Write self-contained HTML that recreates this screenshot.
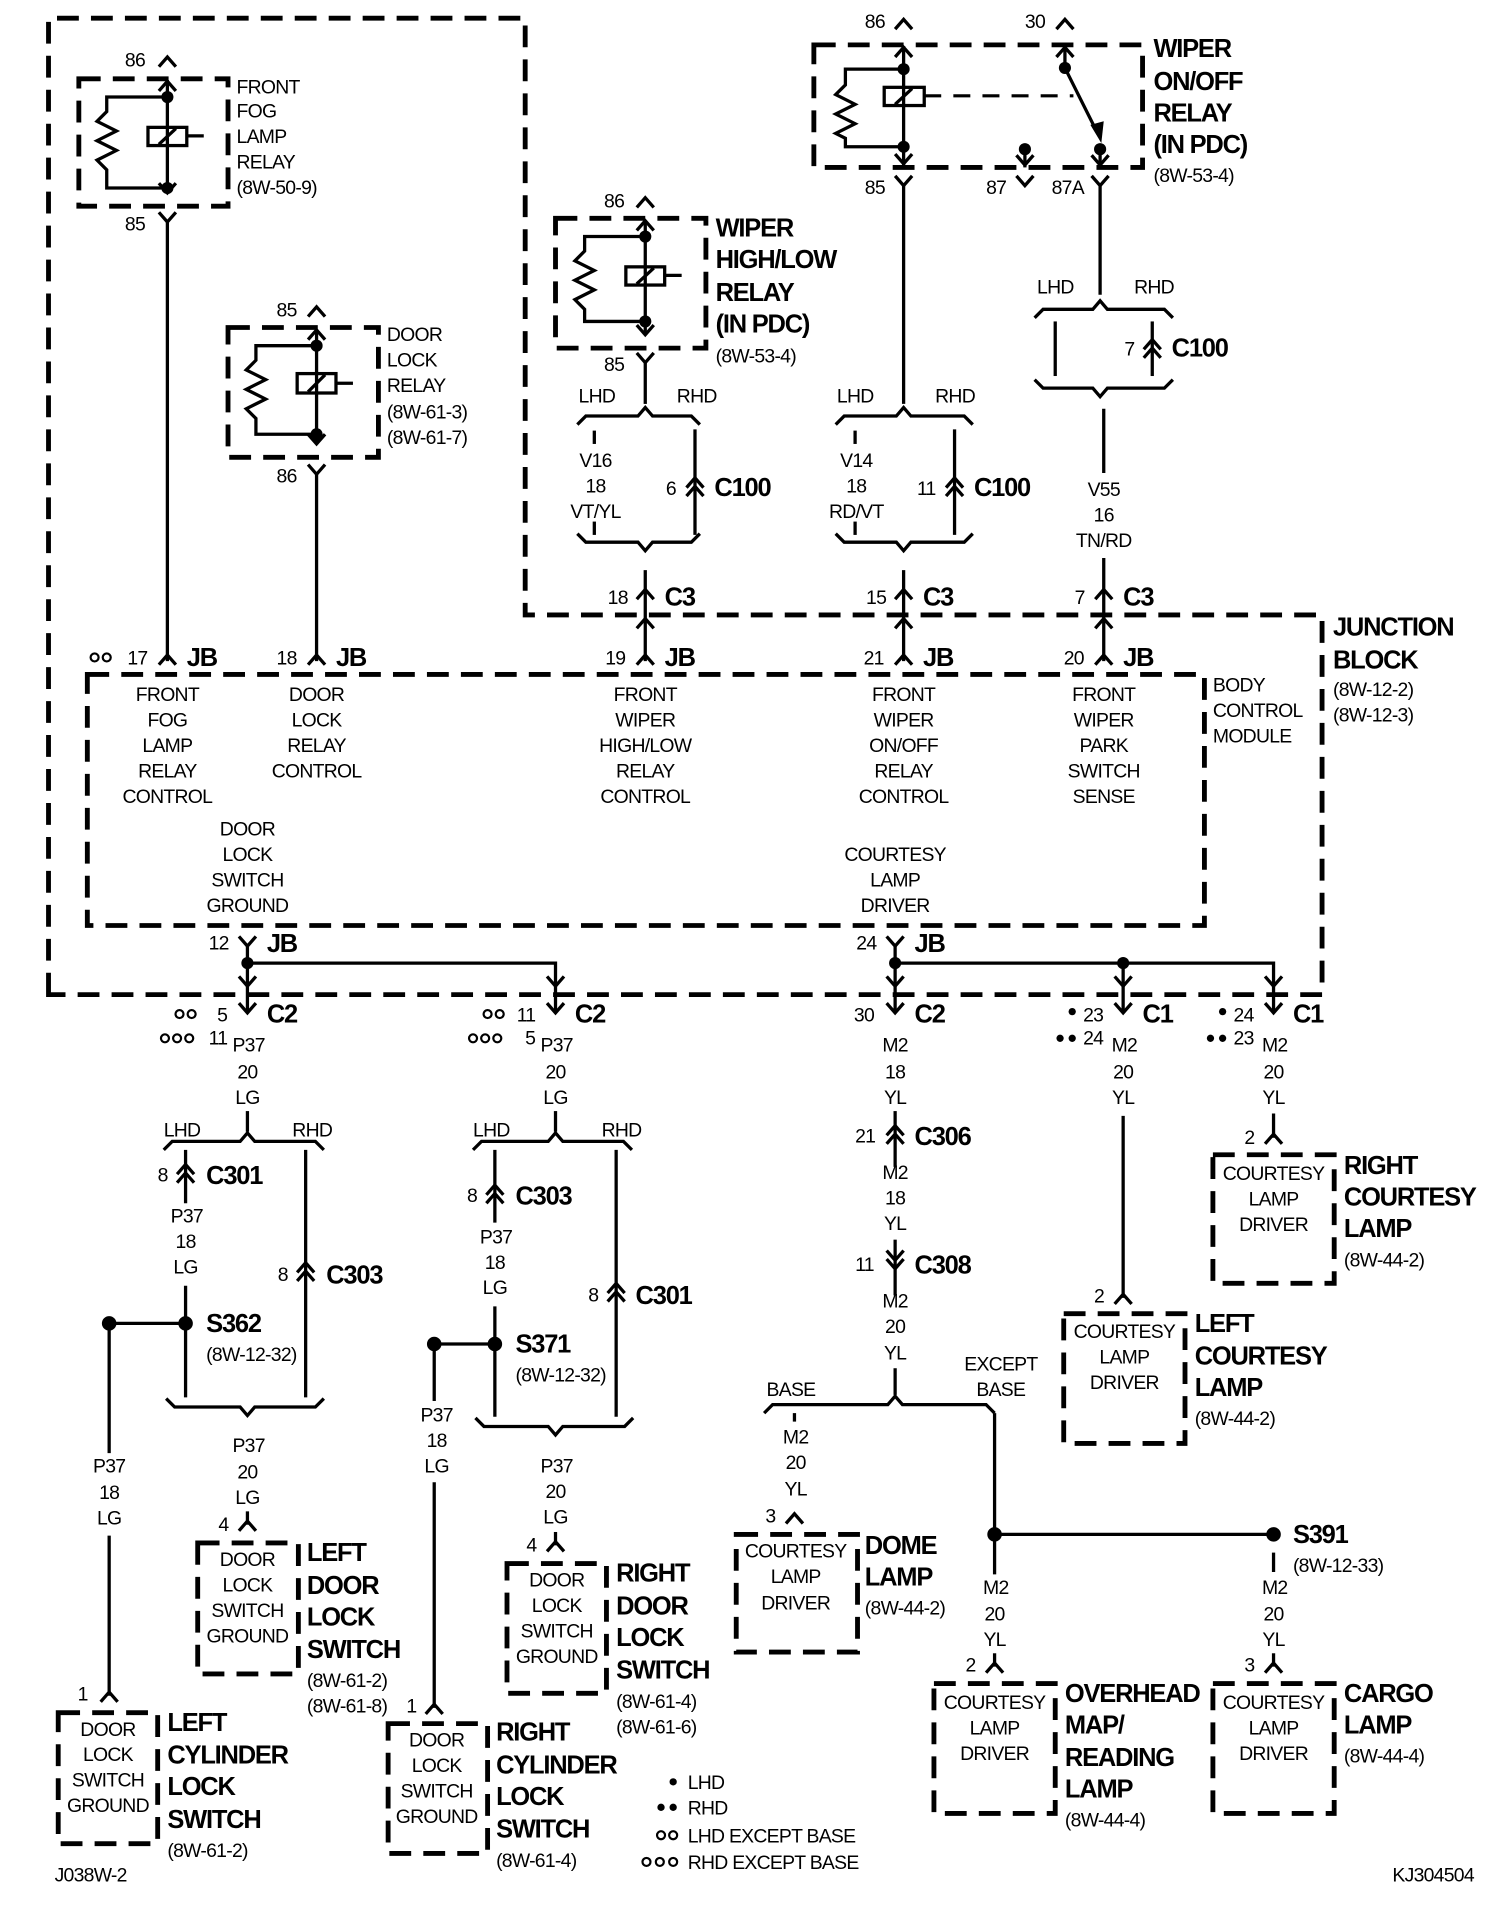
<!DOCTYPE html>
<html><head><meta charset="utf-8"><style>
html,body{margin:0;padding:0;background:#fff}
svg{display:block}
text{font-family:"Liberation Sans",Arial,sans-serif;font-size:16px;fill:#000;letter-spacing:-0.6px}
.c{text-anchor:middle}
.b{font-weight:bold;font-size:21px;letter-spacing:-1px}
.l{fill:none;stroke:#000;stroke-width:2.7}
.dash{fill:none;stroke:#000;stroke-width:4;stroke-dasharray:18 10}
.dsh2{fill:none;stroke:#000;stroke-width:2.5;stroke-dasharray:14 10}
.dot{fill:#000}
.o{fill:none;stroke:#000;stroke-width:1.8}
</style></head><body>
<svg width="1504" height="1908" viewBox="0 0 1240 1573" preserveAspectRatio="none" xmlns="http://www.w3.org/2000/svg">
<defs>
<path id="u" class="l" d="M-7,5 L0,-3 L7,5"/>
<path id="d" class="l" d="M-7,-5 L0,3 L7,-5"/>
<g id="uu"><use href="#u"/><use href="#u" y="7"/></g>
<g id="dd"><use href="#d"/><use href="#d" y="7"/></g>
</defs>
<rect width="1240" height="1573" fill="#fff"/>

<path class="dash" d="M40,820 L40,15 L433,15 L433,507 L1090,507 L1090,820 Z"/>
<rect class="dash" x="72" y="556" width="921" height="207"/>

<!-- FRONT FOG LAMP RELAY -->
<rect class="dash" x="65" y="65" width="123" height="105"/>
<text x="103" y="55">86</text><use href="#u" x="138" y="50"/>
<line class="l" x1="138" y1="66" x2="138" y2="158"/>
<use href="#u" x="138" y="70"/><use href="#d" x="138" y="156"/>
<circle class="dot" cx="138" cy="80" r="5"/><circle class="dot" cx="138" cy="155" r="5"/>
<path class="l" d="M138,80 L88,80 L88,92 L80,100 L96,108 L80,116 L96,124 L80,132 L88,140 L88,155 L138,155"/>
<rect class="l" x="122" y="105" width="32" height="15" fill="#fff"/><line class="l" x1="131" y1="119" x2="145" y2="106"/>
<line class="l" x1="154" y1="112" x2="168" y2="112"/>
<text x="195" y="77">FRONT</text><text x="195" y="97">FOG</text><text x="195" y="118">LAMP</text><text x="195" y="139">RELAY</text><text x="195" y="160">(8W-50-9)</text>
<text x="103" y="190">85</text><use href="#d" x="138" y="180"/>
<line class="l" x1="138" y1="183" x2="138" y2="545"/>

<!-- DOOR LOCK RELAY -->
<rect class="dash" x="188" y="270" width="124" height="107"/>
<text x="228" y="261">85</text><use href="#u" x="261" y="256"/>
<line class="l" x1="261" y1="272" x2="261" y2="365"/>
<use href="#u" x="261" y="275"/><use href="#d" x="261" y="363"/>
<circle class="dot" cx="261" cy="285" r="5"/><circle class="dot" cx="261" cy="358" r="5"/>
<path class="l" d="M261,285 L211,285 L211,297 L203,305 L219,313 L203,321 L219,329 L203,337 L211,345 L211,358 L261,358"/>
<rect class="l" x="245" y="308" width="32" height="16" fill="#fff"/><line class="l" x1="254" y1="323" x2="268" y2="309"/>
<line class="l" x1="277" y1="316" x2="291" y2="316"/>
<text x="319" y="281">DOOR</text><text x="319" y="302">LOCK</text><text x="319" y="323">RELAY</text><text x="319" y="345">(8W-61-3)</text><text x="319" y="366">(8W-61-7)</text>
<text x="228" y="398">86</text><use href="#d" x="261" y="388"/>
<line class="l" x1="261" y1="391" x2="261" y2="545"/>

<!-- WIPER HIGH/LOW RELAY -->
<rect class="dash" x="458" y="180" width="124" height="107"/>
<text x="498" y="171">86</text><use href="#u" x="532" y="166"/>
<line class="l" x1="532" y1="182" x2="532" y2="275"/>
<use href="#u" x="532" y="185"/><use href="#d" x="532" y="273"/>
<circle class="dot" cx="532" cy="195" r="5"/><circle class="dot" cx="532" cy="265" r="5"/>
<path class="l" d="M532,195 L482,195 L482,207 L474,215 L490,223 L474,231 L490,239 L474,247 L482,255 L482,265 L532,265"/>
<rect class="l" x="516" y="220" width="32" height="15" fill="#fff"/><line class="l" x1="525" y1="234" x2="539" y2="221"/>
<line class="l" x1="548" y1="227" x2="562" y2="227"/>
<text class="b" x="590" y="195">WIPER</text><text class="b" x="590" y="221">HIGH/LOW</text><text class="b" x="590" y="248">RELAY</text><text class="b" x="590" y="274">(IN PDC)</text><text x="590" y="299">(8W-53-4)</text>
<text x="498" y="306">85</text><use href="#d" x="532" y="296"/>
<line class="l" x1="532" y1="299" x2="532" y2="333"/>
<text x="477" y="332">LHD</text><text x="558" y="332">RHD</text>
<polyline class="l" points="577,350 570,343 538,343 532,336 526,343 483,343 476,350"/>
<line class="l" x1="490" y1="355" x2="490" y2="366"/><line class="l" x1="490" y1="430" x2="490" y2="441"/>
<text class="c" x="491" y="385">V16</text><text class="c" x="491" y="406">18</text><text class="c" x="491" y="427">VT/YL</text>
<line class="l" x1="573" y1="354" x2="573" y2="441"/>
<use href="#uu" x="573" y="397"/><text x="549" y="408">6</text><text class="b" x="589" y="409">C100</text>
<polyline class="l" points="476,440 483,447 526,447 532,454 538,447 570,447 577,440"/>
<line class="l" x1="532" y1="470" x2="532" y2="545"/>
<use href="#u" x="532" y="489"/><text x="501" y="498">18</text><text class="b" x="548" y="499">C3</text>
<use href="#u" x="532" y="513"/>
<text x="499" y="548">19</text><use href="#u" x="532" y="543"/><text class="b" x="548" y="549">JB</text>

<!-- WIPER ON/OFF RELAY -->
<rect class="dash" x="671" y="37" width="271" height="101"/>
<text x="713" y="23">86</text><use href="#u" x="745" y="19"/>
<line class="l" x1="745" y1="38" x2="745" y2="138"/>
<use href="#u" x="745" y="42"/><use href="#d" x="745" y="132"/>
<circle class="dot" cx="745" cy="57" r="5"/><circle class="dot" cx="745" cy="121" r="5"/>
<path class="l" d="M745,57 L697,57 L697,70 L689,78 L705,86 L689,94 L705,102 L689,110 L697,114 L697,121 L745,121"/>
<rect class="l" x="729" y="72" width="33" height="15" fill="#fff"/><line class="l" x1="738" y1="86" x2="752" y2="73"/>
<line class="dsh2" x1="762" y1="79" x2="885" y2="79"/>
<text x="845" y="23">30</text><use href="#u" x="878" y="19"/>
<line class="l" x1="878" y1="38" x2="878" y2="56"/><use href="#u" x="878" y="42"/>
<circle class="dot" cx="878" cy="56" r="5"/>
<line class="l" x1="878" y1="56" x2="905" y2="110"/><path class="dot" d="M908,118 L899,103 L910,100 Z"/>
<circle class="dot" cx="907" cy="123" r="5"/><line class="l" x1="907" y1="123" x2="907" y2="138"/><use href="#d" x="907" y="133"/>
<circle class="dot" cx="845" cy="123" r="5"/><line class="l" x1="845" y1="123" x2="845" y2="138"/><use href="#d" x="845" y="133"/>
<text class="b" x="951" y="47">WIPER</text><text class="b" x="951" y="74">ON/OFF</text><text class="b" x="951" y="100">RELAY</text><text class="b" x="951" y="126">(IN PDC)</text><text x="951" y="150">(8W-53-4)</text>
<text x="713" y="160">85</text><use href="#d" x="745" y="150"/>
<text x="813" y="160">87</text><use href="#d" x="845" y="150"/>
<text x="867" y="160">87A</text><use href="#d" x="907" y="150"/>
<line class="l" x1="907" y1="152" x2="907" y2="243"/>
<text x="690" y="332">LHD</text><text x="771" y="332">RHD</text>
<polyline class="l" points="802,350 795,343 751,343 745,336 739,343 696,343 689,350"/>
<line class="l" x1="705" y1="355" x2="705" y2="366"/><line class="l" x1="705" y1="430" x2="705" y2="441"/>
<text class="c" x="706" y="385">V14</text><text class="c" x="706" y="406">18</text><text class="c" x="706" y="427">RD/VT</text>
<line class="l" x1="787" y1="354" x2="787" y2="441"/>
<use href="#uu" x="787" y="397"/><text x="756" y="408">11</text><text class="b" x="803" y="409">C100</text>
<polyline class="l" points="689,440 696,447 739,447 745,454 751,447 795,447 802,440"/>
<line class="l" x1="745" y1="153" x2="745" y2="333"/>
<line class="l" x1="745" y1="470" x2="745" y2="545"/>
<use href="#u" x="745" y="489"/><text x="714" y="498">15</text><text class="b" x="761" y="499">C3</text>
<use href="#u" x="745" y="513"/>
<text x="712" y="548">21</text><use href="#u" x="745" y="543"/><text class="b" x="761" y="549">JB</text>
<text x="855" y="242">LHD</text><text x="935" y="242">RHD</text>
<polyline class="l" points="853,262 860,255 901,255 907,248 913,255 960,255 967,262"/>
<line class="l" x1="870" y1="265" x2="870" y2="310"/>
<line class="l" x1="950" y1="265" x2="950" y2="310"/>
<use href="#uu" x="950" y="283"/><text x="927" y="293">7</text><text class="b" x="966" y="294">C100</text>
<polyline class="l" points="853,313 860,320 901,320 907,327 913,320 960,320 967,313"/>
<line class="l" x1="910" y1="337" x2="910" y2="390"/><line class="l" x1="910" y1="460" x2="910" y2="545"/>
<text class="c" x="910" y="409">V55</text><text class="c" x="910" y="430">16</text><text class="c" x="910" y="451">TN/RD</text>
<use href="#u" x="910" y="489"/><text x="886" y="498">7</text><text class="b" x="926" y="499">C3</text>
<use href="#u" x="910" y="513"/>
<text x="877" y="548">20</text><use href="#u" x="910" y="543"/><text class="b" x="926" y="549">JB</text>

<text class="b" x="1099" y="524">JUNCTION</text><text class="b" x="1099" y="551">BLOCK</text>
<text x="1099" y="574">(8W-12-2)</text><text x="1099" y="595">(8W-12-3)</text>
<text x="1000" y="570">BODY</text><text x="1000" y="591">CONTROL</text><text x="1000" y="612">MODULE</text>

<circle class="o" cx="78" cy="542" r="3.3"/><circle class="o" cx="88" cy="542" r="3.3"/>
<text x="105" y="548">17</text><use href="#u" x="138" y="543"/><text class="b" x="154" y="549">JB</text>
<text x="228" y="548">18</text><use href="#u" x="261" y="543"/><text class="b" x="277" y="549">JB</text>

<text class="c" x="138" y="578">FRONT</text><text class="c" x="138" y="599">FOG</text><text class="c" x="138" y="620">LAMP</text><text class="c" x="138" y="641">RELAY</text><text class="c" x="138" y="662">CONTROL</text>
<text class="c" x="261" y="578">DOOR</text><text class="c" x="261" y="599">LOCK</text><text class="c" x="261" y="620">RELAY</text><text class="c" x="261" y="641">CONTROL</text>
<text class="c" x="532" y="578">FRONT</text><text class="c" x="532" y="599">WIPER</text><text class="c" x="532" y="620">HIGH/LOW</text><text class="c" x="532" y="641">RELAY</text><text class="c" x="532" y="662">CONTROL</text>
<text class="c" x="745" y="578">FRONT</text><text class="c" x="745" y="599">WIPER</text><text class="c" x="745" y="620">ON/OFF</text><text class="c" x="745" y="641">RELAY</text><text class="c" x="745" y="662">CONTROL</text>
<text class="c" x="910" y="578">FRONT</text><text class="c" x="910" y="599">WIPER</text><text class="c" x="910" y="620">PARK</text><text class="c" x="910" y="641">SWITCH</text><text class="c" x="910" y="662">SENSE</text>
<text class="c" x="204" y="689">DOOR</text><text class="c" x="204" y="710">LOCK</text><text class="c" x="204" y="731">SWITCH</text><text class="c" x="204" y="752">GROUND</text>
<text class="c" x="738" y="710">COURTESY</text><text class="c" x="738" y="731">LAMP</text><text class="c" x="738" y="752">DRIVER</text>

<text x="172" y="783">12</text><use href="#d" x="204" y="777"/><text class="b" x="220" y="785">JB</text>
<line class="l" x1="204" y1="780" x2="204" y2="835"/>
<circle class="dot" cx="204" cy="794" r="5"/>
<polyline class="l" points="204,794 458,794 458,835"/><use href="#d" x="458" y="810"/>
<use href="#d" x="204" y="810"/>
<text x="706" y="783">24</text><use href="#d" x="738" y="777"/><text class="b" x="754" y="785">JB</text>
<line class="l" x1="738" y1="780" x2="738" y2="835"/>
<circle class="dot" cx="738" cy="794" r="5"/><circle class="dot" cx="926" cy="794" r="5"/>
<polyline class="l" points="738,794 1050,794 1050,835"/><line class="l" x1="926" y1="794" x2="926" y2="835"/>
<use href="#d" x="738" y="810"/><use href="#d" x="926" y="810"/><use href="#d" x="1050" y="810"/>

<circle class="o" cx="148" cy="836" r="3.3"/><circle class="o" cx="158" cy="836" r="3.3"/>
<text x="179" y="842">5</text><use href="#d" x="204" y="832"/><text class="b" x="220" y="843">C2</text>
<circle class="o" cx="136" cy="856" r="3.3"/><circle class="o" cx="146" cy="856" r="3.3"/><circle class="o" cx="156" cy="856" r="3.3"/>
<text x="172" y="861">11</text>
<text class="c" x="205" y="867">P37</text><text class="c" x="204" y="889">20</text><text class="c" x="204" y="910">LG</text>

<circle class="o" cx="402" cy="836" r="3.3"/><circle class="o" cx="412" cy="836" r="3.3"/>
<text x="426" y="842">11</text><use href="#d" x="458" y="832"/><text class="b" x="474" y="843">C2</text>
<circle class="o" cx="390" cy="856" r="3.3"/><circle class="o" cx="400" cy="856" r="3.3"/><circle class="o" cx="410" cy="856" r="3.3"/>
<text x="433" y="861">5</text>
<text class="c" x="459" y="867">P37</text><text class="c" x="458" y="889">20</text><text class="c" x="458" y="910">LG</text>

<text x="704" y="842">30</text><use href="#d" x="738" y="832"/><text class="b" x="754" y="843">C2</text>
<text class="c" x="738" y="867">M2</text><text class="c" x="738" y="889">18</text><text class="c" x="738" y="910">YL</text>

<circle class="dot" cx="884" cy="834" r="3"/><text x="893" y="842">23</text><use href="#d" x="926" y="832"/><text class="b" x="942" y="843">C1</text>
<circle class="dot" cx="874" cy="856" r="3"/><circle class="dot" cx="884" cy="856" r="3"/><text x="893" y="861">24</text>
<text class="c" x="927" y="867">M2</text><text class="c" x="926" y="889">20</text><text class="c" x="926" y="910">YL</text>
<line class="l" x1="926" y1="920" x2="926" y2="1070"/>

<circle class="dot" cx="1008" cy="834" r="3"/><text x="1017" y="842">24</text><use href="#d" x="1050" y="832"/><text class="b" x="1066" y="843">C1</text>
<circle class="dot" cx="998" cy="856" r="3"/><circle class="dot" cx="1008" cy="856" r="3"/><text x="1017" y="861">23</text>
<text class="c" x="1051" y="867">M2</text><text class="c" x="1050" y="889">20</text><text class="c" x="1050" y="910">YL</text>
<line class="l" x1="1050" y1="918" x2="1050" y2="938"/>

<text x="1026" y="943">2</text><use href="#u" x="1050" y="938"/>
<rect class="dash" x="1000" y="952" width="100" height="106"/>
<text class="c" x="1050" y="973">COURTESY</text><text class="c" x="1050" y="994">LAMP</text><text class="c" x="1050" y="1015">DRIVER</text>
<text class="b" x="1108" y="968">RIGHT</text><text class="b" x="1108" y="994">COURTESY</text><text class="b" x="1108" y="1020">LAMP</text><text x="1108" y="1044">(8W-44-2)</text>
<text x="902" y="1074">2</text><use href="#u" x="926" y="1070"/>
<rect class="dash" x="877" y="1083" width="100" height="107"/>
<text class="c" x="927" y="1103">COURTESY</text><text class="c" x="927" y="1124">LAMP</text><text class="c" x="927" y="1145">DRIVER</text>
<text class="b" x="985" y="1098">LEFT</text><text class="b" x="985" y="1125">COURTESY</text><text class="b" x="985" y="1151">LAMP</text><text x="985" y="1175">(8W-44-2)</text>

<line class="l" x1="204" y1="916" x2="204" y2="933"/>
<text x="135" y="937">LHD</text><text x="241" y="937">RHD</text>
<polyline class="l" points="135,948 142,941 198,941 204,934 210,941 260,941 267,948"/>
<line class="l" x1="153" y1="948" x2="153" y2="992"/><use href="#uu" x="153" y="963"/>
<text x="130" y="974">8</text><text class="b" x="170" y="976">C301</text>
<text class="c" x="154" y="1008">P37</text><text class="c" x="153" y="1029">18</text><text class="c" x="153" y="1050">LG</text>
<line class="l" x1="153" y1="1060" x2="153" y2="1152"/>
<line class="l" x1="252" y1="948" x2="252" y2="1152"/><use href="#uu" x="252" y="1044"/>
<text x="229" y="1056">8</text><text class="b" x="269" y="1058">C303</text>
<circle class="dot" cx="153" cy="1091" r="6"/><circle class="dot" cx="90" cy="1091" r="6"/>
<line class="l" x1="90" y1="1091" x2="153" y2="1091"/>
<text class="b" x="170" y="1098">S362</text><text x="170" y="1122">(8W-12-32)</text>
<polyline class="l" points="137,1153 144,1160 198,1160 204,1167 210,1160 260,1160 267,1153"/>
<text class="c" x="205" y="1197">P37</text><text class="c" x="204" y="1219">20</text><text class="c" x="204" y="1240">LG</text>
<line class="l" x1="204" y1="1246" x2="204" y2="1257"/>
<text x="180" y="1262">4</text><use href="#u" x="204" y="1257"/>
<rect class="dash" x="163" y="1272" width="83" height="108"/>
<text class="c" x="204" y="1291">DOOR</text><text class="c" x="204" y="1312">LOCK</text><text class="c" x="204" y="1333">SWITCH</text><text class="c" x="204" y="1354">GROUND</text>
<text class="b" x="253" y="1287">LEFT</text><text class="b" x="253" y="1314">DOOR</text><text class="b" x="253" y="1340">LOCK</text><text class="b" x="253" y="1367">SWITCH</text>
<text x="253" y="1391">(8W-61-2)</text><text x="253" y="1412">(8W-61-8)</text>
<line class="l" x1="90" y1="1091" x2="90" y2="1198"/>
<text class="c" x="90" y="1214">P37</text><text class="c" x="90" y="1236">18</text><text class="c" x="90" y="1257">LG</text>
<line class="l" x1="90" y1="1266" x2="90" y2="1398"/>
<text x="64" y="1402">1</text><use href="#u" x="90" y="1398"/>
<rect class="dash" x="48" y="1412" width="82" height="108"/>
<text class="c" x="89" y="1431">DOOR</text><text class="c" x="89" y="1452">LOCK</text><text class="c" x="89" y="1473">SWITCH</text><text class="c" x="89" y="1494">GROUND</text>
<text class="b" x="138" y="1427">LEFT</text><text class="b" x="138" y="1454">CYLINDER</text><text class="b" x="138" y="1480">LOCK</text><text class="b" x="138" y="1507">SWITCH</text>
<text x="138" y="1531">(8W-61-2)</text>

<line class="l" x1="458" y1="916" x2="458" y2="933"/>
<text x="390" y="937">LHD</text><text x="496" y="937">RHD</text>
<polyline class="l" points="390,948 397,941 452,941 458,934 464,941 514,941 521,948"/>
<line class="l" x1="408" y1="948" x2="408" y2="1008"/><use href="#uu" x="408" y="980"/>
<text x="385" y="991">8</text><text class="b" x="425" y="993">C303</text>
<text class="c" x="409" y="1025">P37</text><text class="c" x="408" y="1046">18</text><text class="c" x="408" y="1067">LG</text>
<line class="l" x1="408" y1="1077" x2="408" y2="1168"/>
<line class="l" x1="508" y1="948" x2="508" y2="1168"/><use href="#uu" x="508" y="1061"/>
<text x="485" y="1073">8</text><text class="b" x="524" y="1075">C301</text>
<circle class="dot" cx="408" cy="1108" r="6"/><circle class="dot" cx="358" cy="1108" r="6"/>
<line class="l" x1="358" y1="1108" x2="408" y2="1108"/>
<text class="b" x="425" y="1115">S371</text><text x="425" y="1139">(8W-12-32)</text>
<polyline class="l" points="392,1169 399,1176 452,1176 458,1183 464,1176 515,1176 522,1169"/>
<text class="c" x="459" y="1214">P37</text><text class="c" x="458" y="1235">20</text><text class="c" x="458" y="1256">LG</text>
<line class="l" x1="458" y1="1263" x2="458" y2="1274"/>
<text x="434" y="1279">4</text><use href="#u" x="458" y="1274"/>
<rect class="dash" x="418" y="1289" width="82" height="107"/>
<text class="c" x="459" y="1308">DOOR</text><text class="c" x="459" y="1329">LOCK</text><text class="c" x="459" y="1350">SWITCH</text><text class="c" x="459" y="1371">GROUND</text>
<text class="b" x="508" y="1304">RIGHT</text><text class="b" x="508" y="1331">DOOR</text><text class="b" x="508" y="1357">LOCK</text><text class="b" x="508" y="1384">SWITCH</text>
<text x="508" y="1408">(8W-61-4)</text><text x="508" y="1429">(8W-61-6)</text>
<line class="l" x1="358" y1="1108" x2="358" y2="1155"/>
<text class="c" x="360" y="1172">P37</text><text class="c" x="360" y="1193">18</text><text class="c" x="360" y="1214">LG</text>
<line class="l" x1="358" y1="1222" x2="358" y2="1408"/>
<text x="335" y="1412">1</text><use href="#u" x="358" y="1408"/>
<rect class="dash" x="320" y="1421" width="82" height="107"/>
<text class="c" x="360" y="1440">DOOR</text><text class="c" x="360" y="1461">LOCK</text><text class="c" x="360" y="1482">SWITCH</text><text class="c" x="360" y="1503">GROUND</text>
<text class="b" x="409" y="1435">RIGHT</text><text class="b" x="409" y="1462">CYLINDER</text><text class="b" x="409" y="1488">LOCK</text><text class="b" x="409" y="1515">SWITCH</text>
<text x="409" y="1539">(8W-61-4)</text>

<line class="l" x1="738" y1="916" x2="738" y2="962"/><use href="#uu" x="738" y="931"/>
<text x="705" y="942">21</text><text class="b" x="754" y="944">C306</text>
<text class="c" x="738" y="972">M2</text><text class="c" x="738" y="993">18</text><text class="c" x="738" y="1014">YL</text>
<line class="l" x1="738" y1="1022" x2="738" y2="1068"/><use href="#dd" x="738" y="1036"/>
<text x="705" y="1048">11</text><text class="b" x="754" y="1050">C308</text>
<text class="c" x="738" y="1078">M2</text><text class="c" x="738" y="1099">20</text><text class="c" x="738" y="1121">YL</text>
<line class="l" x1="738" y1="1128" x2="738" y2="1150"/>
<text x="632" y="1151">BASE</text><text x="795" y="1130">EXCEPT</text><text x="805" y="1151">BASE</text>
<polyline class="l" points="630,1165 637,1158 732,1158 738,1151 744,1158 813,1158 820,1165"/>
<line class="l" x1="655" y1="1165" x2="655" y2="1172"/>
<text class="c" x="656" y="1190">M2</text><text class="c" x="656" y="1211">20</text><text class="c" x="656" y="1233">YL</text>
<text x="631" y="1255">3</text><use href="#u" x="655" y="1251"/>
<rect class="dash" x="607" y="1265" width="100" height="97"/>
<text class="c" x="656" y="1284">COURTESY</text><text class="c" x="656" y="1305">LAMP</text><text class="c" x="656" y="1327">DRIVER</text>
<text class="b" x="713" y="1281">DOME</text><text class="b" x="713" y="1307">LAMP</text><text x="713" y="1331">(8W-44-2)</text>
<line class="l" x1="820" y1="1165" x2="820" y2="1298"/>
<circle class="dot" cx="820" cy="1265" r="6"/><circle class="dot" cx="1050" cy="1265" r="6"/>
<line class="l" x1="820" y1="1265" x2="1050" y2="1265"/>
<text class="b" x="1066" y="1272">S391</text><text x="1066" y="1296">(8W-12-33)</text>
<text class="c" x="821" y="1314">M2</text><text class="c" x="820" y="1336">20</text><text class="c" x="820" y="1357">YL</text>
<line class="l" x1="820" y1="1363" x2="820" y2="1374"/>
<text x="796" y="1378">2</text><use href="#u" x="820" y="1374"/>
<rect class="dash" x="770" y="1388" width="100" height="107"/>
<text class="c" x="820" y="1409">COURTESY</text><text class="c" x="820" y="1430">LAMP</text><text class="c" x="820" y="1451">DRIVER</text>
<text class="b" x="878" y="1403">OVERHEAD</text><text class="b" x="878" y="1429">MAP/</text><text class="b" x="878" y="1456">READING</text><text class="b" x="878" y="1482">LAMP</text><text x="878" y="1506">(8W-44-4)</text>
<line class="l" x1="1050" y1="1280" x2="1050" y2="1296"/>
<text class="c" x="1051" y="1314">M2</text><text class="c" x="1050" y="1336">20</text><text class="c" x="1050" y="1357">YL</text>
<line class="l" x1="1050" y1="1363" x2="1050" y2="1374"/>
<text x="1026" y="1378">3</text><use href="#u" x="1050" y="1374"/>
<rect class="dash" x="1000" y="1388" width="100" height="107"/>
<text class="c" x="1050" y="1409">COURTESY</text><text class="c" x="1050" y="1430">LAMP</text><text class="c" x="1050" y="1451">DRIVER</text>
<text class="b" x="1108" y="1403">CARGO</text><text class="b" x="1108" y="1429">LAMP</text><text x="1108" y="1453">(8W-44-4)</text>

<circle class="dot" cx="555" cy="1469" r="3"/><text x="567" y="1475">LHD</text>
<circle class="dot" cx="545" cy="1490" r="3"/><circle class="dot" cx="555" cy="1490" r="3"/><text x="567" y="1496">RHD</text>
<circle class="o" cx="545" cy="1513" r="3.3"/><circle class="o" cx="555" cy="1513" r="3.3"/><text x="567" y="1519">LHD EXCEPT BASE</text>
<circle class="o" cx="533" cy="1535" r="3.3"/><circle class="o" cx="544" cy="1535" r="3.3"/><circle class="o" cx="555" cy="1535" r="3.3"/><text x="567" y="1541">RHD EXCEPT BASE</text>

<text x="45" y="1551">J038W-2</text>
<text x="1148" y="1551">KJ304504</text>
</svg>
</body></html>
